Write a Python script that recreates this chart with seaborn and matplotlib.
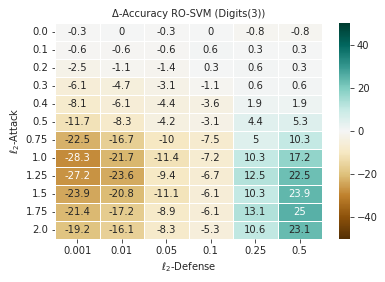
import numpy as np
import pandas as pd
import matplotlib
matplotlib.use("Agg")
import matplotlib.pyplot as plt
import seaborn as sns

# attack strength (rows) and defense strength (columns)
attack = ["0.0", "0.1", "0.2", "0.3", "0.4", "0.5", "0.75", "1.0", "1.25", "1.5", "1.75", "2.0"]
defense = ["0.001", "0.01", "0.05", "0.1", "0.25", "0.5"]

# delta accuracy, one row per attack value
d_00 = [-0.3, 0, -0.3, 0, -0.8, -0.8]
d_01 = [-0.6, -0.6, -0.6, 0.6, 0.3, 0.3]
d_02 = [-2.5, -1.1, -1.4, 0.3, 0.6, 0.3]
d_03 = [-6.1, -4.7, -3.1, -1.1, 0.6, 0.6]
d_04 = [-8.1, -6.1, -4.4, -3.6, 1.9, 1.9]
d_05 = [-11.7, -8.3, -4.2, -3.1, 4.4, 5.3]
d_075 = [-22.5, -16.7, -10, -7.5, 5, 10.3]
d_10 = [-28.3, -21.7, -11.4, -7.2, 10.3, 17.2]
d_125 = [-27.2, -23.6, -9.4, -6.7, 12.5, 22.5]
d_15 = [-23.9, -20.8, -11.1, -6.1, 10.3, 23.9]
d_175 = [-21.4, -17.2, -8.9, -6.1, 13.1, 25]
d_20 = [-19.2, -16.1, -8.3, -5.3, 10.6, 23.1]

df = pd.DataFrame([d_00, d_01, d_02, d_03, d_04, d_05, d_075, d_10,
                   d_125, d_15, d_175, d_20], index=attack, columns=defense)

sns.set_style("ticks")
plt.rcParams["font.family"] = ["DejaVu Sans"]
plt.rcParams["font.size"] = 10

fig = plt.figure(figsize=(385 / 72, 282 / 72), dpi=72)
ax = fig.add_axes([55 / 385, 1 - 239 / 282, 267 / 385, 216 / 282])
cax = fig.add_axes([339 / 385, 1 - 239 / 282, 11 / 385, 216 / 282])

sns.heatmap(df, ax=ax, cbar_ax=cax, cmap="BrBG", vmin=-50, vmax=50, center=0,
            annot=True, fmt="g", linewidths=1, linecolor="white",
            annot_kws={"fontsize": 10})

ax.set_title("Δ-Accuracy RO-SVM (Digits(3))", fontsize=10)
ax.set_xlabel(r"$\ell_2$-Defense", fontsize=10)
ax.set_ylabel(r"$\ell_2$-Attack", fontsize=10)
ax.tick_params(labelsize=10)
ax.set_yticklabels(attack, rotation=0)
cax.tick_params(labelsize=10)
cax.set_yticks([-40, -20, 0, 20, 40])

fig.savefig("out.png", dpi=72)
